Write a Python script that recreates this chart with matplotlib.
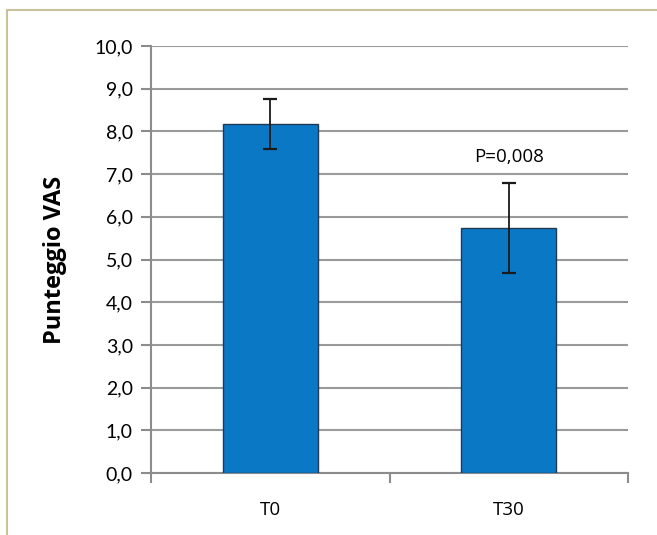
import matplotlib.pyplot as plt
from matplotlib.lines import Line2D
from matplotlib.ticker import MultipleLocator, FixedLocator

# Mean VAS score with standard deviation at each time point
categories = ["T0", "T30"]
means = [8.18, 5.74]
errors = [0.59, 1.05]
p_label = "P=0,008"

fig = plt.figure(figsize=(6.57, 5.35), dpi=100)
ax = fig.add_axes([0.2298, 0.1159, 0.7261, 0.7981])

x = list(range(len(categories)))
ax.bar(x, means, width=0.4, color="#0b78c6", edgecolor="#1e3a55", linewidth=1.0, zorder=3)
ax.errorbar(x, means, yerr=errors, fmt="none", ecolor="#1a1a1a", elinewidth=1.3,
            capsize=5, capthick=1.6, zorder=4)

ax.text(1, 7.4, p_label, ha="center", va="center", fontsize=13.5, family="Open Sans")

ax.set_xlim(-0.5, 1.5)
ax.set_ylim(0, 10)
ax.yaxis.set_major_locator(MultipleLocator(1))
ax.set_yticklabels([f"{v:.1f}".replace(".", ",") for v in ax.get_yticks()],
                   fontsize=14, family="Lato")
ax.set_xticks(x)
ax.set_xticklabels(categories, fontsize=13.5, family="Open Sans")
ax.tick_params(axis="x", length=0, pad=20)
ax.xaxis.set_minor_locator(FixedLocator([-0.5, 0.5, 1.5]))
ax.tick_params(axis="x", which="minor", length=7, width=1.5, color="#8c8c8c")
ax.tick_params(axis="y", length=7, width=1.5, color="#8c8c8c", pad=6)

ax.grid(axis="y", color="#9a9a9a", linewidth=1.5, zorder=0)
ax.set_axisbelow(True)
for side in ["top", "right"]:
    ax.spines[side].set_visible(False)
for side in ["left", "bottom"]:
    ax.spines[side].set_color("#8c8c8c")
    ax.spines[side].set_linewidth(1.5)

ax.set_ylabel("Punteggio VAS", fontsize=17, fontweight="bold", family="Open Sans", labelpad=20)

# Frame lines along the top and left edge of the figure
frame = "#c8c39c"
fig.add_artist(Line2D([7 / 657, 1], [1 - 10 / 535, 1 - 10 / 535], color=frame, linewidth=1.5,
                      transform=fig.transFigure))
fig.add_artist(Line2D([7 / 657, 7 / 657], [0, 1 - 10 / 535], color=frame, linewidth=1.5,
                      transform=fig.transFigure))

fig.savefig("out.png", dpi=100)
